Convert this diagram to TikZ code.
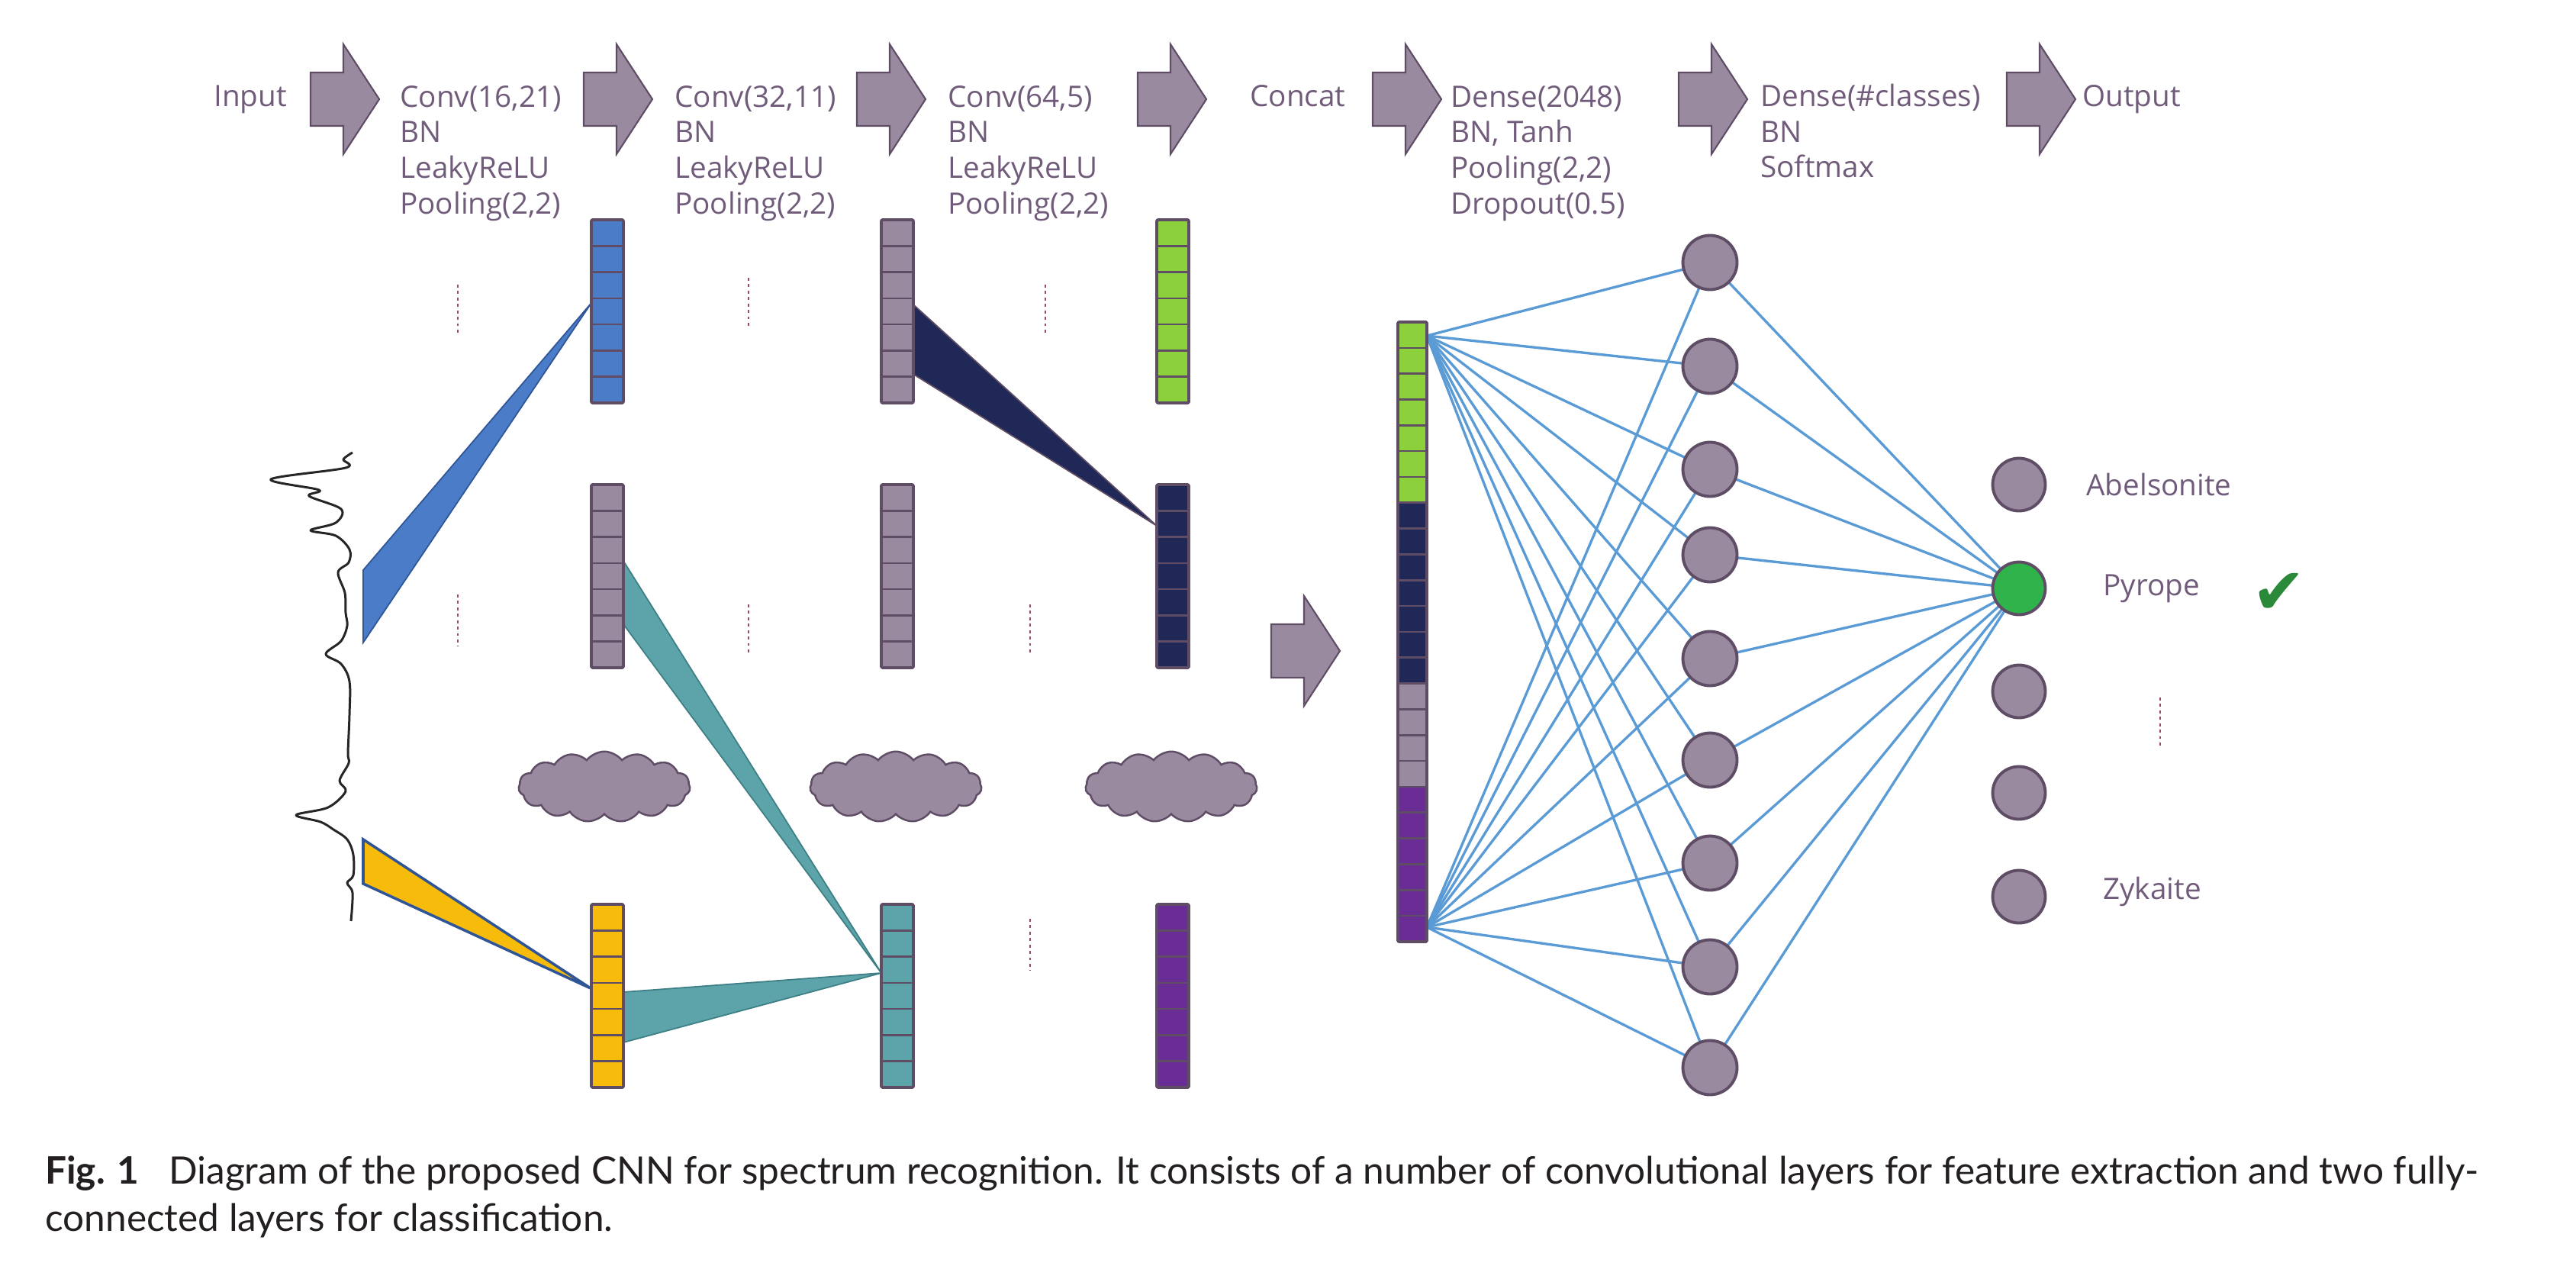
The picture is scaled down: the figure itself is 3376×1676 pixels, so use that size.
\documentclass[tikz,border=0pt]{standalone}
\usepackage{fontspec}
\usepackage{xcolor}
\usepackage{tikz}
\setmainfont{Open Sans}
\newfontfamily\capfont{Lato}
\newfontfamily\symfont{DejaVu Sans}
\usetikzlibrary{shapes.symbols, backgrounds}

\definecolor{txtpurple}{HTML}{705C7A}
\definecolor{boxgrey}{HTML}{9A8AA0}
\definecolor{edgegrey}{HTML}{5E4D65}
\definecolor{convblue}{HTML}{4A7CC8}
\definecolor{blueedge}{HTML}{2F5597}
\definecolor{convyellow}{HTML}{F7BB0B}
\definecolor{convteal}{HTML}{5CA4A9}
\definecolor{tealedge}{HTML}{3D7F85}
\definecolor{convgreen}{HTML}{8CD13C}
\definecolor{convnavy}{HTML}{1F2856}
\definecolor{convpurple}{HTML}{6A2D96}
\definecolor{fcblue}{HTML}{5B9BD5}
\definecolor{hitgreen}{HTML}{2FB34A}
\definecolor{tickgreen}{HTML}{2A8A3A}
\definecolor{dotred}{HTML}{9A4A6A}
\definecolor{captext}{HTML}{231F20}

\tikzset{
  flowarrow/.style={fill=boxgrey, draw=edgegrey, line width=1.2pt},
  lbl/.style={text=txtpurple, font=\fontsize{22}{26.5}\selectfont, align=left, inner sep=0pt},
  cell/.style={draw=edgegrey, line width=1.5pt},
  colframe/.style={draw=edgegrey, line width=2.2pt, rounded corners=1pt},
  dotline/.style={dotred, line width=1.3pt, dash pattern=on 2.2pt off 2.6pt},
  cloudshape/.style={cloud, cloud puffs=15, cloud puff arc=105, aspect=2.4,
    fill=boxgrey, draw=edgegrey, line width=1.4pt, inner sep=0pt,
    minimum width=4.5cm, minimum height=1.85cm},
  neuron/.style={circle, fill=boxgrey, draw=edgegrey, line width=2.2pt,
    inner sep=0pt, minimum size=1.42cm},
  fcline/.style={fcblue, line width=1.9pt},
  capline/.style={text=captext, font=\capfont\fontsize{28.2}{35}\selectfont, inner sep=0pt}
}

% one arrow of the top row: left x, centre y
\newcommand{\flowarr}[2]{%
  \draw[flowarrow] (#1,#2) ++(0,-35) -- ++(43,0) -- ++(0,-37) -- ++(47,72)
    -- ++(-47,72) -- ++(0,-37) -- ++(-43,0) -- cycle;
}
% one feature column: left x, top y, colour
\newcommand{\featcol}[3]{%
  \foreach \k in {1,...,7} {
    \draw[cell, fill=#3] (#1,{#2+(\k-1)*34.29}) rectangle ++(42,34.29);
  }
  \draw[colframe] (#1,#2) rectangle ++(42,240);
}

\begin{document}
\begin{tikzpicture}[x=0.02cm, y=-0.02cm]
  \useasboundingbox (0,0) rectangle (3376,1676);

  % Top row of arrows
  \foreach \ax in {407, 765, 1123, 1491, 1799, 2200, 2630} {
    \flowarr{\ax}{130}
  }
  \flowarr{1666}{853}

  % Layer labels (anchored at the baseline of their last line)
  \node[lbl, anchor=base west] (tinput) at (280,140) {Input};
  \node[lbl, anchor=base west] (tconv1) at (524,280) {Conv(16,21)\\BN\\LeakyReLU\\Pooling(2,2)};
  \node[lbl, anchor=base west] (tconv2) at (884,280) {Conv(32,11)\\BN\\LeakyReLU\\Pooling(2,2)};
  \node[lbl, anchor=base west] (tconv3) at (1242,280) {Conv(64,5)\\BN\\LeakyReLU\\Pooling(2,2)};
  \node[lbl, anchor=base west] (tconcat) at (1638,140) {Concat};
  \node[lbl, anchor=base west] (tdense1) at (1901,280) {Dense(2048)\\BN, Tanh\\Pooling(2,2)\\Dropout(0.5)};
  \node[lbl, anchor=base west] (tdense2) at (2307,233) {Dense(\#classes)\\BN\\Softmax};
  \node[lbl, anchor=base west] (toutput) at (2729,140) {Output};

  % Input spectrum
  \draw[black!85, line width=1.7pt, line join=round] plot[smooth, tension=0.55] coordinates {
    (462,593) (450,602) (453,613) (355,628) (418,642) (405,650) (447,667)
    (440,685) (407,695) (440,702) (458,720) (457,737) (443,750) (452,777)
    (453,803) (455,820) (447,840) (427,857) (447,870) (458,893) (458,937)
    (456,987) (457,1000) (445,1023) (453,1037) (430,1058) (388,1068)
    (420,1077) (437,1087) (455,1100) (463,1120) (463,1147) (455,1157)
    (462,1170) (460,1207)};

  % Receptive fields
  \filldraw[fill=convblue, draw=blueedge, line width=1pt] (476,747) -- (775,397) -- (476,842) -- cycle;
  \filldraw[fill=convyellow, draw=blueedge, line width=2pt] (476,1100) -- (774,1295) -- (476,1158) -- cycle;
  \filldraw[fill=convteal, draw=tealedge, line width=1pt] (817,735) -- (1155,1275) -- (817,818) -- cycle;
  \filldraw[fill=convteal, draw=tealedge, line width=1pt] (817,1300) -- (1155,1275) -- (817,1366) -- cycle;
  \filldraw[fill=convnavy, draw=edgegrey, line width=1pt] (1198,400) -- (1516,689) -- (1198,491) -- cycle;

  % Feature maps
  \featcol{775}{288}{convblue}
  \featcol{775}{635}{boxgrey}
  \featcol{775}{1185}{convyellow}
  \featcol{1155}{288}{boxgrey}
  \featcol{1155}{635}{boxgrey}
  \featcol{1155}{1185}{convteal}
  \featcol{1516}{288}{convgreen}
  \featcol{1516}{635}{convnavy}
  \featcol{1516}{1185}{convpurple}

  % Dots between maps
  \draw[dotline] (600,373) -- (600,440);
  \draw[dotline] (981,364) -- (981,431);
  \draw[dotline] (1370,373) -- (1370,440);
  \draw[dotline] (600,779) -- (600,847);
  \draw[dotline] (981,792) -- (981,859);
  \draw[dotline] (1350,792) -- (1350,859);
  \draw[dotline] (1350,1204) -- (1350,1272);

  % Clouds
  \node[cloudshape] (cloud1) at (792,1031) {};
  \node[cloudshape] (cloud2) at (1174,1031) {};
  \node[cloudshape] (cloud3) at (1535,1031) {};

  % Concatenated vector
  \foreach \c [count=\k from 0] in {convgreen, convgreen, convgreen, convgreen,
      convgreen, convgreen, convgreen, convnavy, convnavy, convnavy, convnavy,
      convnavy, convnavy, convnavy, boxgrey, boxgrey, boxgrey, boxgrey,
      convpurple, convpurple, convpurple, convpurple, convpurple, convpurple} {
    \draw[cell, fill=\c] (1832,{422+\k*33.83}) rectangle ++(38,33.83);
  }
  \draw[colframe] (1832,422) rectangle (1870,1234);
  \coordinate (ctop) at (1870,440);
  \coordinate (cbot) at (1870,1215);

  % Dense layer
  \foreach \hy [count=\i] in {344, 480, 615, 727, 863, 996, 1131, 1267, 1399} {
    \node[neuron] (h\i) at (2241,\hy) {};
  }

  % Output layer
  \node[neuron, minimum size=1.38cm] (o1) at (2646,635) {};
  \node[neuron, minimum size=1.38cm, fill=hitgreen] (o2) at (2646,771) {};
  \node[neuron, minimum size=1.38cm] (o3) at (2646,906) {};
  \node[neuron, minimum size=1.38cm] (o4) at (2646,1039) {};
  \node[neuron, minimum size=1.38cm] (o5) at (2646,1175) {};

  % Fully connected lines
  \begin{scope}[on background layer]
    \foreach \i in {1,...,9} {
      \draw[fcline] (ctop) -- (h\i.center);
      \draw[fcline] (cbot) -- (h\i.center);
      \draw[fcline] (h\i.center) -- (o2.center);
    }
  \end{scope}

  % Class labels
  \node[lbl, anchor=west] (labelson) at (2734,635) {Abelsonite};
  \node[lbl, anchor=west] (labpyrope) at (2756,771) {Pyrope};
  \node[lbl, anchor=west] (labzyk) at (2756,1168) {Zykaite};
  \node[text=tickgreen, font=\symfont\fontsize{48}{48}\selectfont, inner sep=0pt] (tick) at (2987,778) {✔};
  \draw[dotline] (2831,914) -- (2831,979);

  % Caption
  \node[capline, anchor=base west] (cap1) at (59,1551) {\textbf{Fig. 1}\hspace{22pt}Diagram of the proposed CNN for spectrum recognition. It consists of a number of convolutional layers for feature extraction and two fully-};
  \node[capline, anchor=base west] (cap2) at (59,1613) {connected layers for classification.};
\end{tikzpicture}
\end{document}
